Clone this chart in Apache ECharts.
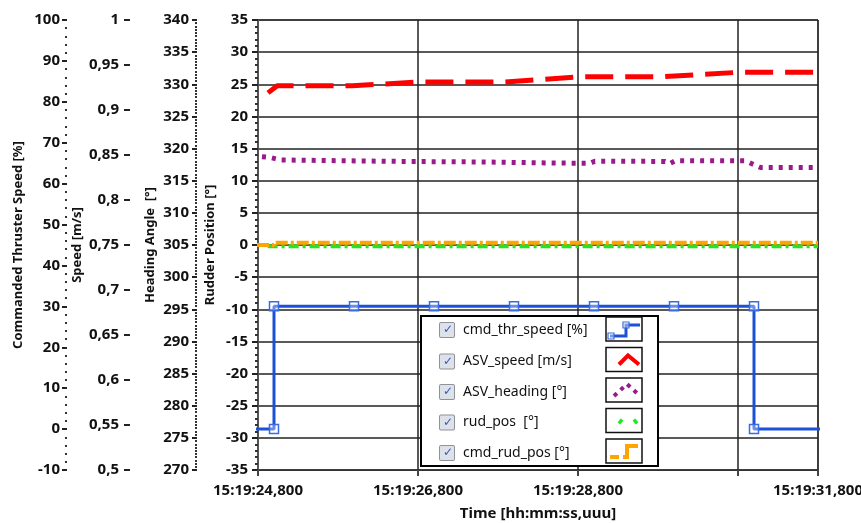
<!DOCTYPE html>
<html>
<head>
<meta charset="utf-8">
<title>ASV log</title>
<script src="https://cdn.jsdelivr.net/npm/echarts@6/dist/echarts.min.js"></script>
<style>
html,body{margin:0;padding:0;background:#fff;}
#chart{width:861px;height:523px;}
</style>
</head>
<body>
<div id="chart"></div>
<script>
// seconds after 15:19:00
var T0 = 24.8;
var T1 = 31.8;

var seriesNames = ['cmd_thr_speed [%]', 'ASV_speed [m/s]', 'ASV_heading [°]', 'rud_pos  [°]', 'cmd_rud_pos [°]'];
var seriesColors = ['#1c50d8', '#ff0000', '#9a1a8c', '#22e622', '#ffa500'];

var thrTime = [24.0, 25.0, 25.0, 26.0, 27.0, 28.0, 29.0, 30.0, 31.0, 31.0, 32.0];
var thrVal  = [0, 0, 30, 30, 30, 30, 30, 30, 30, 0, 0];

var spdTime = [24.925, 25.04, 25.98, 26.8, 27.89, 28.83, 29.86, 30.83, 31.8];
var spdVal  = [0.919, 0.927, 0.927, 0.931, 0.931, 0.937, 0.937, 0.942, 0.942];

var hdgTime = [24.85, 24.95, 25.08, 25.58, 26.58, 27.58, 28.45, 28.95, 29.01, 29.89, 29.95, 30.02, 30.89, 30.98, 31.08, 31.8];
var hdgVal  = [318.74, 318.62, 318.23, 318.15, 318.0, 317.92, 317.76, 317.71, 318.03, 318.0, 317.68, 318.12, 318.1, 317.61, 317.06, 317.06];

var rudTime = [24.92, 31.8];
var rudVal  = [-0.2, -0.2];

var cmdRudTime = [24.0, 25.0, 25.0, 31.8];
var cmdRudVal  = [0, 0, 0.35, 0.35];

var FONT = 'Noto Sans';

function pairs(ts, vs){
	var out = [];
	for(var i=0;i<ts.length;i++){
		out.push([Math.round((ts[i]-T0)*1000)/1000, vs[i]]);
	}
	return out;
}

function timeLabel(v){
	if(Math.abs(v-6)<1e-6) return '';
	var s = (T0+v).toFixed(3).replace('.', ',');
	return '15:19:' + s;
}

function yAxisBase(name, offset, min, max, interval){
	return {
		type: 'value',
		position: 'left',
		offset: offset,
		min: min,
		max: max,
		interval: interval,
		name: name,
		nameLocation: 'middle',
		nameGap: 42,
		nameMoveOverlap: false,
		nameTextStyle: {fontFamily: FONT, fontWeight: 'bold', fontSize: 13, color: '#111'},
		axisLine: {show: false, onZero: false},
		axisTick: {show: true, length: 5, lineStyle: {color: '#222', width: 2}},
		minorTick: {show: false},
		splitLine: {show: false},
		axisLabel: {fontFamily: FONT, fontWeight: 'bold', fontSize: 15, color: '#111', margin: 8}
	};
}

var thrAxis = yAxisBase('Commanded Thruster Speed [%]', 191, -10, 100, 10);
thrAxis.minorTick = {show: true, splitNumber: 5, length: 2, lineStyle: {color: '#333', width: 2}};
thrAxis.axisLabel.margin = 7;
thrAxis.nameGap = 42;

var spdAxis = yAxisBase('Speed [m/s]', 128, 0.5, 1, 0.05);
spdAxis.axisTick.length = 6;
spdAxis.axisLabel.margin = 11;
spdAxis.nameGap = 46;
spdAxis.axisLabel.formatter = function(v){ return String(+v.toFixed(2)).replace('.', ','); };

var hdgAxis = yAxisBase('Heading Angle  [°]', 61, 270, 340, 5);
hdgAxis.minorTick = {show: true, splitNumber: 10, length: 2, lineStyle: {color: '#333', width: 2}};
hdgAxis.axisLabel.margin = 8;
hdgAxis.nameGap = 40;

var rudAxis = yAxisBase('Rudder Position [°]', 0, -35, 35, 5);
rudAxis.axisLine = {show: true, onZero: false, lineStyle: {color: '#555', width: 2}};
rudAxis.axisTick.length = 6;
rudAxis.minorTick = {show: true, splitNumber: 5, length: 3, lineStyle: {color: '#333', width: 2}};
rudAxis.splitLine = {show: true, lineStyle: {color: '#222', width: 1.5}};
rudAxis.axisLabel.margin = 10;
rudAxis.nameGap = 41;

var legendRich = {
	cb: {width: 11, height: 14, lineHeight: 14, padding: [0, 0, 0, 3], align: 'left',
		backgroundColor: '#dde1e8', borderColor: '#8d929b', borderWidth: 1, borderRadius: 1,
		color: '#2f56c4', fontSize: 12, fontFamily: 'DejaVu Sans', fontWeight: 'bold'},
	sp: {width: 9, align: 'left'},
	nm: {fontFamily: FONT, fontSize: 14, lineHeight: 24, color: '#111', align: 'left'}
};

// boxes and line samples of the legend (drawn, the legend itself only gives the text)
var LX = 606, LY = 317, ROW = 30.5;
var legendGlyphs = [];
for(var i=0;i<seriesNames.length;i++){
	legendGlyphs.push({
		type: 'rect', z: 100,
		shape: {x: LX, y: LY + i*ROW, width: 36, height: 24},
		style: {fill: 'none', stroke: '#111', lineWidth: 1.5}
	});
}
function glyphLine(row, pts, color, width, dash){
	var p = [];
	for(var k=0;k<pts.length;k++) p.push([LX + pts[k][0], LY + row*ROW + pts[k][1]]);
	legendGlyphs.push({
		type: 'polyline', z: 101,
		shape: {points: p},
		style: {fill: null, stroke: color, lineWidth: width, lineDash: dash || null}
	});
}
glyphLine(0, [[4, 19], [20, 19], [20, 8], [34, 8]], seriesColors[0], 3);
legendGlyphs.push({type: 'rect', z: 102, shape: {x: LX + 2, y: LY + 16, width: 6, height: 6},
	style: {fill: 'rgba(255,255,255,0.4)', stroke: '#3a6ce0', lineWidth: 1.2}});
legendGlyphs.push({type: 'rect', z: 102, shape: {x: LX + 17, y: LY + 5, width: 6, height: 6},
	style: {fill: 'rgba(255,255,255,0.4)', stroke: '#3a6ce0', lineWidth: 1.2}});
glyphLine(1, [[13, 17], [22, 8], [33, 17]], seriesColors[1], 4);
glyphLine(2, [[8, 18], [21, 6], [34, 18]], seriesColors[2], 4, [4, 5]);
glyphLine(3, [[13, 15], [16, 11]], seriesColors[3], 3.5);
glyphLine(3, [[28, 11], [31, 15]], seriesColors[3], 3.5);
glyphLine(4, [[4, 18], [13, 18]], seriesColors[4], 4);
glyphLine(4, [[17, 18], [21, 18], [21, 7], [32, 7]], seriesColors[4], 4);

var chart = echarts.init(document.getElementById('chart'), null, {renderer: 'canvas'});

var option = {
	backgroundColor: '#fff',
	animation: false,
	grid: {left: 258, right: 43, top: 20, bottom: 53, outerBoundsMode: 'none',
		show: true, borderColor: '#333', borderWidth: 1},
	xAxis: {
		type: 'value',
		min: 0,
		max: Math.round((T1-T0)*1000)/1000,
		interval: 2,
		name: 'Time [hh:mm:ss,uuu]',
		nameLocation: 'middle',
		nameGap: 36,
		nameMoveOverlap: false,
		nameTextStyle: {fontFamily: FONT, fontWeight: 'bold', fontSize: 15, color: '#111'},
		axisLine: {show: true, onZero: false, lineStyle: {color: '#333', width: 1}},
		axisTick: {show: true, length: 6, lineStyle: {color: '#444', width: 2}},
		splitLine: {show: true, lineStyle: {color: '#222', width: 1.5}},
		axisLabel: {fontFamily: FONT, fontWeight: 'bold', fontSize: 15, color: '#111', margin: 13,
			interval: 0, showMaxLabel: true, showMinLabel: true, formatter: timeLabel}
	},
	yAxis: [thrAxis, spdAxis, hdgAxis, rudAxis],
	legend: {
		orient: 'vertical',
		left: 421,
		top: 316,
		align: 'right',
		icon: 'rect',
		itemWidth: 30,
		itemHeight: 24,
		itemGap: 6.5,
		itemStyle: {opacity: 0},
		lineStyle: {opacity: 0},
		padding: [1, 18, 1, 18],
		backgroundColor: '#fff',
		borderColor: '#000',
		borderWidth: 2,
		selectedMode: false,
		data: seriesNames,
		formatter: function(n){ return '{cb|✓}{sp|}{nm|' + n + '}'; },
		textStyle: {width: 164, rich: legendRich}
	},
	graphic: legendGlyphs,
	series: [
		{
			name: seriesNames[0], type: 'line', yAxisIndex: 0,
			data: pairs(thrTime, thrVal),
			symbol: 'rect', symbolSize: 9, showSymbol: true,
			lineStyle: {color: seriesColors[0], width: 3},
			itemStyle: {color: 'rgba(255,255,255,0.35)', borderColor: '#3a6ce0', borderWidth: 1.5}
		},
		{
			name: seriesNames[1], type: 'line', yAxisIndex: 1,
			data: pairs(spdTime, spdVal),
			showSymbol: false, symbol: 'none',
			lineStyle: {color: seriesColors[1], width: 5, type: [28, 12]},
			itemStyle: {color: seriesColors[1]}
		},
		{
			name: seriesNames[2], type: 'line', yAxisIndex: 2,
			data: pairs(hdgTime, hdgVal),
			showSymbol: false, symbol: 'none',
			lineStyle: {color: seriesColors[2], width: 5, type: [4, 6]},
			itemStyle: {color: seriesColors[2]}
		},
		{
			name: seriesNames[3], type: 'line', yAxisIndex: 3,
			data: pairs(rudTime, rudVal),
			showSymbol: false, symbol: 'none',
			lineStyle: {color: seriesColors[3], width: 4, type: [10, 4, 3, 4]},
			itemStyle: {color: seriesColors[3]}
		},
		{
			name: seriesNames[4], type: 'line', yAxisIndex: 3,
			data: pairs(cmdRudTime, cmdRudVal),
			showSymbol: false, symbol: 'none',
			lineStyle: {color: seriesColors[4], width: 4, type: [12, 3, 3, 3]},
			itemStyle: {color: seriesColors[4]}
		}
	]
};

chart.setOption(option);
</script>
</body>
</html>
